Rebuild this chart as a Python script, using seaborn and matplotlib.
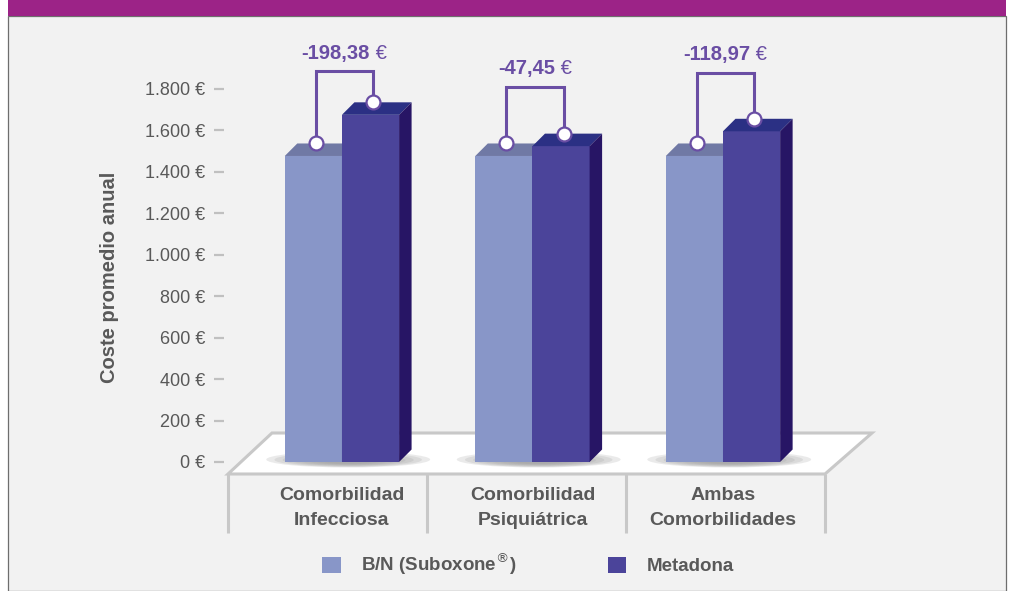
import matplotlib
matplotlib.use("Agg")
import numpy as np
import pandas as pd
import matplotlib.pyplot as plt
from matplotlib.patches import Polygon, Rectangle, Ellipse
import seaborn as sns


# %%
# Datos
categorias = ["Comorbilidad\nInfecciosa", "Comorbilidad\nPsiquiátrica", "Ambas\nComorbilidades"]
tratamientos = ["B/N (Suboxone$^{\\circledR}$)", "Metadona"]
coste_bn = [1475, 1475, 1475]
coste_metadona = [1673.38, 1522.45, 1593.97]
diferencias = [-198.38, -47.45, -118.97]
ticks_y = [0, 200, 400, 600, 800, 1000, 1200, 1400, 1600, 1800]


# %%
# Estilo y geometria (pixeles de la figura)
W, H, DPI = 1011, 591, 100
AX_L, AX_T, AX_R, AX_B = 224, 40, 851, 462
XLIM = (-0.619, 2.672)
YLIM = (0, 2034)

GRIS_TXT = "#595959"
C_BN, C_BN_TOP, C_BN_SIDE = "#8896c8", "#7079a5", "#5f6a9a"
C_MET, C_MET_TOP, C_MET_SIDE = "#4b449a", "#2b3084", "#271565"
C_ANOT = "#6a4ea4"
C_SUELO = "#c8c8c8"

sns.set_theme(style="white")
plt.rcParams["font.family"] = ["Liberation Sans", "DejaVu Sans"]


def px_x(px):
    return XLIM[0] + (px - AX_L) / (AX_R - AX_L) * (XLIM[1] - XLIM[0])


def px_y(px):
    return YLIM[0] + (AX_B - px) / (AX_B - AX_T) * (YLIM[1] - YLIM[0])


# desplazamiento de la cara superior / lateral (efecto 3D)
DX = px_x(AX_L + 12.5) - px_x(AX_L)
DY = px_y(AX_B - 12.5) - px_y(AX_B)

# distancia del corchete sobre la barra de metadona (en euros)
hueco_corchete = [150, 226, 222]


# %%
fig = plt.figure(figsize=(W / DPI, H / DPI), dpi=DPI, facecolor="white")
fig.add_artist(Rectangle((8 / W, 0), 998 / W, 1 - 16 / H, transform=fig.transFigure,
                         facecolor="#f2f2f2", edgecolor="#6e6e6e", lw=0.9, zorder=-2))
fig.add_artist(Rectangle((8 / W, 1 - 16 / H), 998 / W, 16 / H, transform=fig.transFigure,
                         facecolor="#9c2387", edgecolor="none", zorder=-1))

ax = fig.add_axes([AX_L / W, 1 - AX_B / H, (AX_R - AX_L) / W, (AX_B - AX_T) / H])
ax.set_facecolor("none")

datos = pd.DataFrame({
    "categoria": categorias * 2,
    "tratamiento": [t for t in tratamientos for _ in categorias],
    "coste": coste_bn + coste_metadona,
})

sns.barplot(data=datos, x="categoria", y="coste", hue="tratamiento",
            palette=[C_BN, C_MET], width=0.6, saturation=1, errorbar=None,
            linewidth=0, ax=ax)
ax.set_xlim(*XLIM)
ax.set_ylim(*YLIM)

# suelo en perspectiva
suelo = Polygon([(px_x(228), px_y(474)), (px_x(272), px_y(433)),
                 (px_x(872), px_y(433)), (px_x(825), px_y(474))],
                closed=True, facecolor="white", edgecolor=C_SUELO, lw=2.2,
                clip_on=False, zorder=0.5)
ax.add_patch(suelo)
for xd in np.linspace(px_x(228), px_x(825), len(categorias) + 1):
    ax.plot([xd, xd], [px_y(474), px_y(533)], color=C_SUELO, lw=2.2,
            clip_on=False, zorder=0.5, solid_capstyle="butt")

# sombras bajo cada grupo (degradado)
alto_sombra = px_y(444) - px_y(460)
for i in range(len(categorias)):
    for k in range(8):
        f = 1 - k * 0.1
        ax.add_patch(Ellipse((i + DX / 2, px_y(459.5) - alto_sombra * (1 - f) * 0.15),
                             0.86 * f, alto_sombra * f,
                             facecolor="#9a9a9a", edgecolor="none", alpha=0.2,
                             clip_on=False, zorder=0.8))

# caras superior y lateral
colores_3d = [(C_BN_TOP, C_BN_SIDE), (C_MET_TOP, C_MET_SIDE)]
for j, contenedor in enumerate(ax.containers):
    for barra in contenedor:
        barra.set_zorder(2 + j)
        x0, w, h = barra.get_x(), barra.get_width(), barra.get_height()
        top = Polygon([(x0, h), (x0 + w, h), (x0 + w + DX, h + DY), (x0 + DX, h + DY)],
                      closed=True, facecolor=colores_3d[j][0], edgecolor="none",
                      zorder=2.1 + j)
        lado = Polygon([(x0 + w, 0), (x0 + w + DX, DY), (x0 + w + DX, h + DY), (x0 + w, h)],
                       closed=True, facecolor=colores_3d[j][1], edgecolor="none",
                       zorder=2.1 + j)
        ax.add_patch(top)
        ax.add_patch(lado)

# corchetes con la diferencia
for i, (b_bn, b_met) in enumerate(zip(ax.containers[0], ax.containers[1])):
    x_bn = b_bn.get_x() + b_bn.get_width() / 2 + DX * 0.2
    x_met = b_met.get_x() + b_met.get_width() / 2 + DX * 0.2
    y_bn = b_bn.get_height() + DY
    y_met = b_met.get_height() + DY
    y_top = y_met + hueco_corchete[i]
    ax.plot([x_bn, x_bn, x_met, x_met], [y_bn, y_top, y_top, y_met],
            color=C_ANOT, lw=2.2, zorder=4, solid_joinstyle="miter")
    ax.plot([x_bn, x_met], [y_bn, y_met], "o", ms=10, mfc="white", mec=C_ANOT,
            mew=1.6, zorder=5)
    texto = f"{diferencias[i]:.2f}".replace(".", ",")
    t = ax.text((x_bn + x_met) / 2 - 0.045, y_top + px_y(AX_B - 18), texto,
                ha="center", va="center", fontsize=14.5, fontweight="bold",
                color=C_ANOT, zorder=5)
    ax.annotate(" €", xy=(1, 0.5), xycoords=t, ha="left", va="center",
                fontsize=14.5, color=C_ANOT, zorder=5)

# ejes
ax.set_yticks(ticks_y)
ax.set_yticklabels([f"{v:,.0f} €".replace(",", ".") for v in ticks_y])
ax.tick_params(axis="y", left=True, length=7.2, width=1.6, color="#c0c0c0",
               pad=6.5, labelsize=13, labelcolor=GRIS_TXT)
ax.set_xticks(range(len(categorias)))
ax.set_xticklabels(categorias, fontsize=14, fontweight="bold", color=GRIS_TXT)
for etiqueta in ax.get_xticklabels():
    etiqueta.set_linespacing(1.65)
ax.tick_params(axis="x", length=0, pad=18)
ax.set_xlabel("")
ax.set_ylabel("Coste promedio anual", fontsize=14.5, fontweight="bold", color=GRIS_TXT)
ax.yaxis.set_label_coords(-0.168, 0.438)
sns.despine(ax=ax, left=True, bottom=True)

sns.move_legend(ax, "center", bbox_to_anchor=(528 / W, 1 - 564 / H),
                bbox_transform=fig.transFigure, ncol=2, frameon=False, title=None,
                handlelength=1.0, handleheight=0.95, handletextpad=1.07,
                columnspacing=4.85, prop={"weight": "bold", "size": 13.5},
                labelcolor=GRIS_TXT)

fig.savefig("out.png", dpi=DPI, facecolor=fig.get_facecolor())
